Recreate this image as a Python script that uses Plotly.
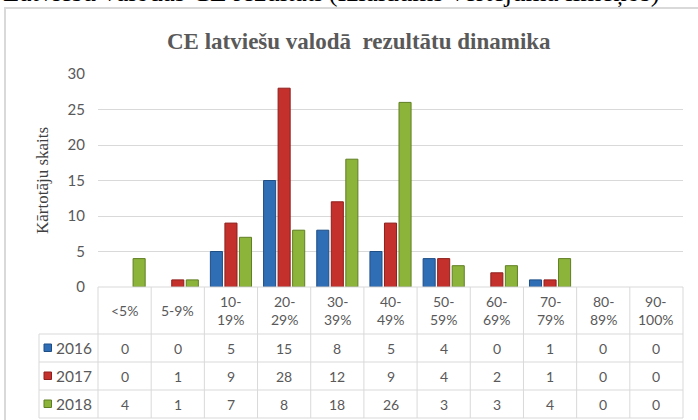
import plotly.graph_objects as go

# ---------------- data ----------------
categories = ["<5%", "5-9%", "10-19%", "20-29%", "30-39%", "40-49%",
              "50-59%", "60-69%", "70-79%", "80-89%", "90-100%"]
header_labels = ["<5%", "5-9%", "10-<br>19%", "20-<br>29%", "30-<br>39%", "40-<br>49%",
                 "50-<br>59%", "60-<br>69%", "70-<br>79%", "80-<br>89%", "90-<br>100%"]
years = ["2016", "2017", "2018"]
v2016 = [0, 0, 5, 15, 8, 5, 4, 0, 1, 0, 0]
v2017 = [0, 1, 9, 28, 12, 9, 4, 2, 1, 0, 0]
v2018 = [4, 1, 7, 8, 18, 26, 3, 3, 4, 0, 0]
y_ticks = [0, 5, 10, 15, 20, 25, 30]

title_text = "CE latviešu valodā\u00a0 rezultātu dinamika"
heading_text = "Latviešu valodas CE rezultāti (Izlaidums vērtējuma līmeņos)"
y_title = "Kārtotāju skaits"

series = [v2016, v2017, v2018]
colors = ["#2F6DB5", "#C4302C", "#8DB43A"]
edge = ["#1F4E85", "#8E1F1C", "#5F7E22"]

# ---------------- geometry (pixels) ----------------
W, H = 698, 420
L, R, T, B = 98, 15, 74, 133
PW = W - L - R
PH = H - T - B
base_py = T + PH

SERIF = "Liberation Serif, Times New Roman, serif"


def px(x):
    return (x - L) / PW


def py(y):
    return (base_py - y) / PH


GRID = "#D9D9D9"
TXT = "#595959"
FONT = "Lato"

fig = go.Figure()
for name, vals, c, e in zip(years, series, colors, edge):
    fig.add_trace(go.Bar(
        x=categories, y=vals, name=name,
        marker=dict(color=c, line=dict(color=e, width=[1 if v else 0 for v in vals])),
        showlegend=False,
    ))

shapes = []
annotations = []

# chart frame
shapes.append(dict(type="rect", xref="paper", yref="paper",
                   x0=px(5), x1=px(720), y0=py(8), y1=py(440),
                   line=dict(color=GRID, width=2), layer="below"))

n = len(categories)
# data table: horizontal lines
row_lines = [base_py, 334, 362, 390, 418]
for i, yy in enumerate(row_lines):
    x0 = 0 if i == 0 else px(39)
    shapes.append(dict(type="line", xref="paper", yref="paper",
                       x0=x0, x1=1, y0=py(yy), y1=py(yy),
                       line=dict(color=GRID, width=1)))
# vertical lines
for k in range(n + 1):
    xx = k / n
    shapes.append(dict(type="line", xref="paper", yref="paper",
                       x0=xx, x1=xx, y0=py(base_py), y1=py(418),
                       line=dict(color=GRID, width=1)))
shapes.append(dict(type="line", xref="paper", yref="paper",
                   x0=px(39), x1=px(39), y0=py(334), y1=py(418),
                   line=dict(color=GRID, width=1)))

# header labels
for k, lab in enumerate(header_labels):
    annotations.append(dict(x=(k + 0.5) / n, y=py(310.5), xref="paper", yref="paper",
                            text=lab, showarrow=False, xanchor="center", yanchor="middle",
                            font=dict(family=FONT, size=14, color=TXT)))
# row values
row_centers = [348, 376, 404]
for r, (name, vals, c, e) in enumerate(zip(years, series, colors, edge)):
    yc = py(row_centers[r])
    for k, v in enumerate(vals):
        annotations.append(dict(x=(k + 0.5) / n, y=yc, xref="paper", yref="paper",
                                text=str(v), showarrow=False, xanchor="center", yanchor="middle",
                                font=dict(family=FONT, size=14, color=TXT)))
    # legend key square
    shapes.append(dict(type="rect", xref="paper", yref="paper",
                       x0=px(44), x1=px(51.5),
                       y0=py(row_centers[r] + 3.5), y1=py(row_centers[r] - 4),
                       fillcolor=c, line=dict(color=e, width=1)))
    annotations.append(dict(x=px(54), y=yc, xref="paper", yref="paper",
                            text=name, showarrow=False, xanchor="left", yanchor="middle",
                            font=dict(family=FONT, size=15.5, color=TXT)))

# y-axis title
annotations.append(dict(x=px(42), y=py(180), xref="paper", yref="paper",
                        text=y_title, showarrow=False, textangle=-90,
                        xanchor="center", yanchor="middle",
                        font=dict(family=SERIF, size=17, color="#404040")))
# chart title
annotations.append(dict(x=px(359), y=py(41), xref="paper", yref="paper",
                        text="<b>" + title_text + "</b>", showarrow=False,
                        xanchor="center", yanchor="middle",
                        font=dict(family=SERIF, size=23, color=TXT)))
# clipped document heading at very top
annotations.append(dict(x=px(1), y=py(9), xref="paper", yref="paper",
                        text=heading_text, showarrow=False,
                        xanchor="left", yanchor="bottom",
                        font=dict(family=SERIF, size=27, color="#000000")))

fig.update_layout(
    width=W, height=H,
    margin=dict(l=L, r=R, t=T, b=B, pad=0),
    paper_bgcolor="white", plot_bgcolor="white",
    barmode="group", bargap=0.18, bargroupgap=0.17,
    xaxis=dict(type="category", range=[-0.5, n - 0.5], showticklabels=False,
               showgrid=False, zeroline=False, showline=False, ticks=""),
    yaxis=dict(range=[0, 30], tickvals=y_ticks, showgrid=True, gridcolor=GRID,
               gridwidth=1, zeroline=False, showline=False, ticks="",
               ticklabelstandoff=12,
               tickfont=dict(family=FONT, size=15, color=TXT)),
    shapes=shapes, annotations=annotations,
)

fig.write_html("out.html", config={"displayModeBar": False},
               post_script="document.body.style.margin='0';document.body.style.overflow='hidden';")
